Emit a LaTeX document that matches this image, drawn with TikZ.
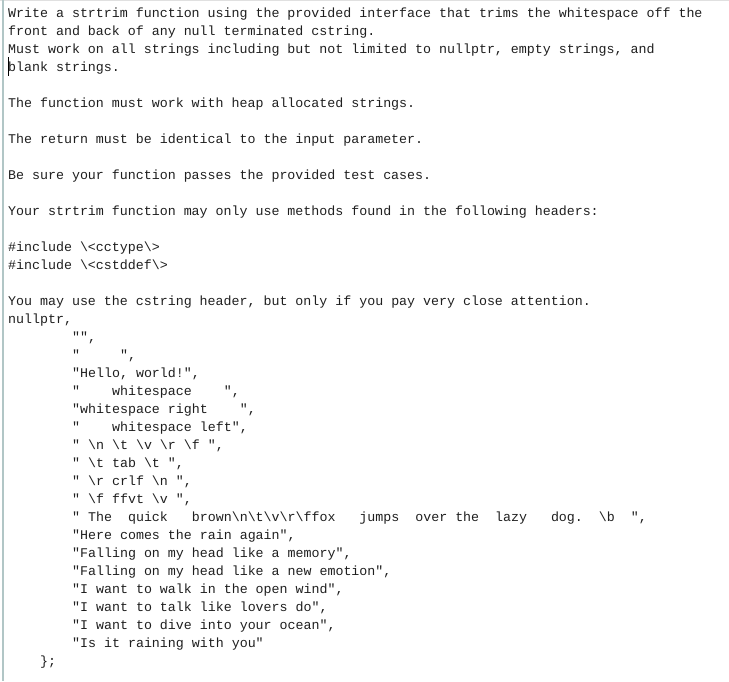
\documentclass[tikz,border=0pt]{standalone}
\usepackage{fontspec}
\newfontfamily\codefont{Liberation Mono}
\newcommand{\bs}{\textbackslash}
\begin{document}
\begin{tikzpicture}[x=1pt,y=-1pt,
  ln/.style={anchor=base west,inner sep=0pt,font=\codefont\fontsize{13.3}{16}\selectfont,text=black!88}]
\useasboundingbox (0,0) rectangle (729,681);
\fill[white] (0,0) rectangle (729,681);
\draw[black!12,line width=1pt] (0,0.5) -- (729,0.5);
\draw[teal!35!gray!45,line width=1.2pt] (3,0) -- (3,681);
\newcommand{\Ln}[3]{\node[ln] (l#1) at ({8+8*#2},{17+18*#1}) {#3};}
\Ln{0}{0}{Write a strtrim function using the provided interface that trims the whitespace off the}
\Ln{1}{0}{front and back of any null terminated cstring.}
\Ln{2}{0}{Must work on all strings including but not limited to nullptr, empty strings, and}
\Ln{3}{0}{blank strings.}
\draw[black,line width=0.8pt] (8.5,57) -- (8.5,76);
\Ln{5}{0}{The function must work with heap allocated strings.}
\Ln{7}{0}{The return must be identical to the input parameter.}
\Ln{9}{0}{Be sure your function passes the provided test cases.}
\Ln{11}{0}{Your strtrim function may only use methods found in the following headers:}
\Ln{13}{0}{\#include \bs<cctype\bs>}
\Ln{14}{0}{\#include \bs<cstddef\bs>}
\Ln{16}{0}{You may use the cstring header, but only if you pay very close attention.}
\Ln{17}{0}{nullptr,}
\Ln{18}{8}{"",}
\Ln{19}{8}{"~~~~~",}
\Ln{20}{8}{"Hello, world!",}
\Ln{21}{8}{"~~~~whitespace~~~~",}
\Ln{22}{8}{"whitespace right~~~~",}
\Ln{23}{8}{"~~~~whitespace left",}
\Ln{24}{8}{" \bs n \bs t \bs v \bs r \bs f ",}
\Ln{25}{8}{" \bs t tab \bs t ",}
\Ln{26}{8}{" \bs r crlf \bs n ",}
\Ln{27}{8}{" \bs f ffvt \bs v ",}
\Ln{28}{8}{" The~~quick~~~brown\bs n\bs t\bs v\bs r\bs ffox~~~jumps~~over the~~lazy~~~dog.~~\bs b~~",}
\Ln{29}{8}{"Here comes the rain again",}
\Ln{30}{8}{"Falling on my head like a memory",}
\Ln{31}{8}{"Falling on my head like a new emotion",}
\Ln{32}{8}{"I want to walk in the open wind",}
\Ln{33}{8}{"I want to talk like lovers do",}
\Ln{34}{8}{"I want to dive into your ocean",}
\Ln{35}{8}{"Is it raining with you"}
\Ln{36}{4}{\};}
\end{tikzpicture}
\end{document}
